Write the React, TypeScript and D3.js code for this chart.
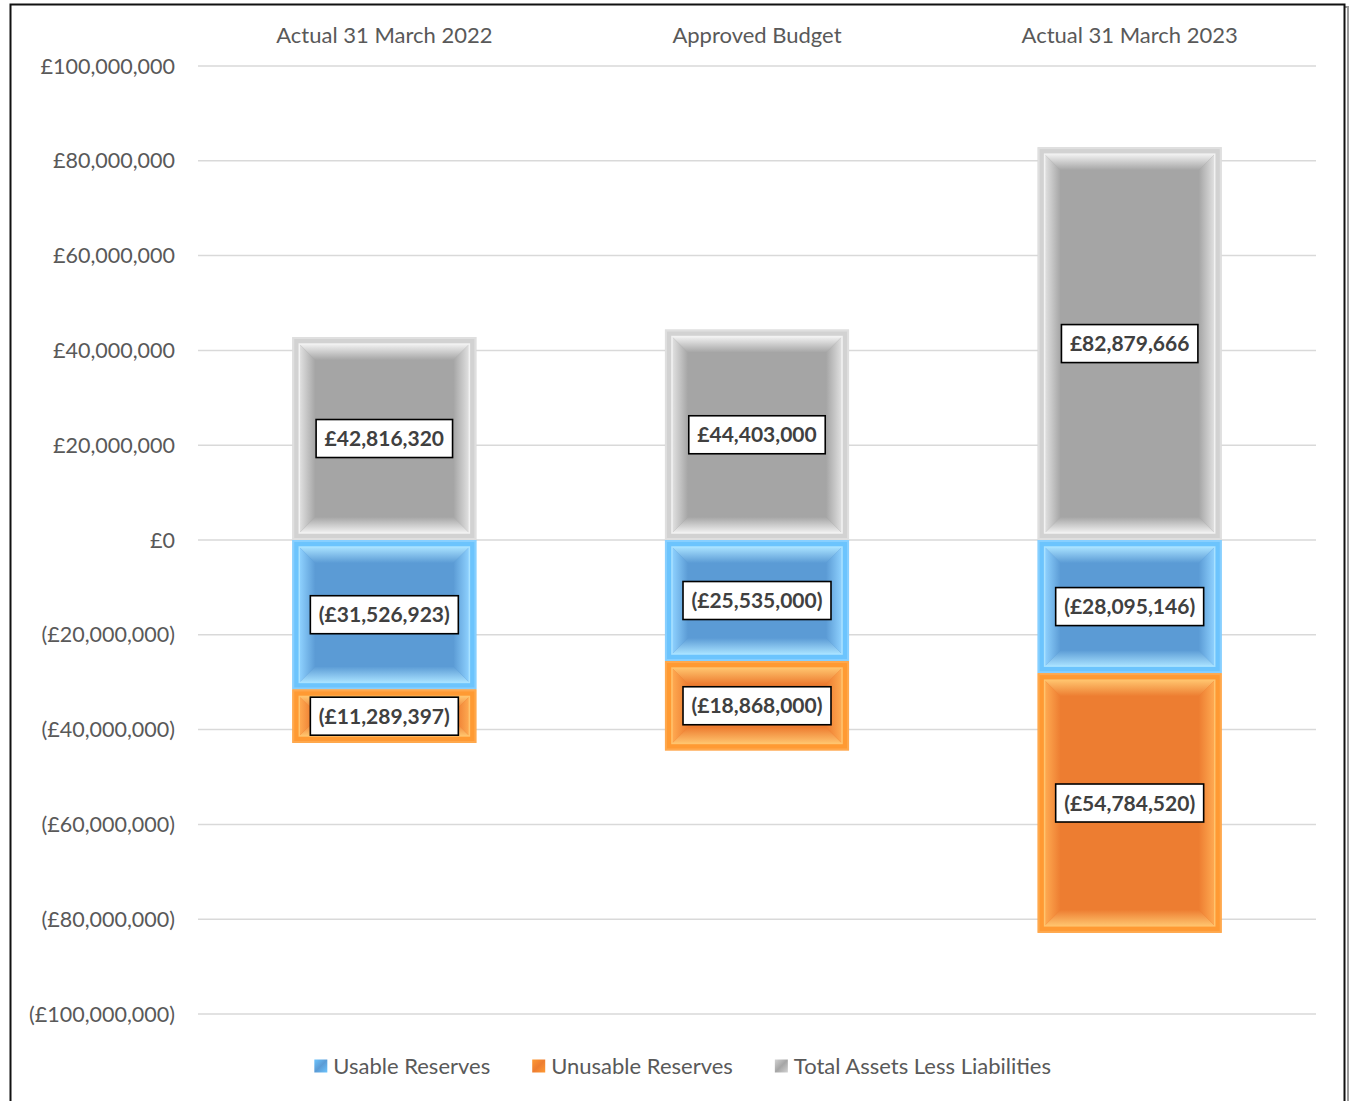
import React from "react";
import * as d3 from "d3";

const categories = ["Actual 31 March 2022", "Approved Budget", "Actual 31 March 2023"];
const usableReserves = [-31526923, -25535000, -28095146];
const unusableReserves = [-11289397, -18868000, -54784520];
const totalAssetsLessLiabilities = [42816320, 44403000, 82879666];
const seriesNames = ["Usable Reserves", "Unusable Reserves", "Total Assets Less Liabilities"];
const yTickValues = [-100e6, -80e6, -60e6, -40e6, -20e6, 0, 20e6, 40e6, 60e6, 80e6, 100e6];

const FONT = "Lato, 'Open Sans', sans-serif";
const W = 1351;
const H = 1101;

const palettes = [
  { key: "usable", base: "#5b9bd5", edge: "#6cc4fd", hi: "#a9e2ff", bevelLight: "#8fd2ff", bevelDark: "#4f8fcb" },
  { key: "unusable", base: "#ed7d31", edge: "#ff9a33", hi: "#ffc46e", bevelLight: "#ffab52", bevelDark: "#e37025" },
  { key: "total", base: "#a5a5a5", edge: "#d2d2d2", hi: "#f2f2f2", bevelLight: "#e2e2e2", bevelDark: "#9a9a9a" },
];

const fmt = d3.format(",");
function money(v: number): string {
  if (v === 0) return "£0";
  return v < 0 ? `(£${fmt(-v)})` : `£${fmt(v)}`;
}

let _ctx: CanvasRenderingContext2D | null = null;
function textWidth(t: string, font: string): number {
  if (!_ctx) _ctx = document.createElement("canvas").getContext("2d");
  if (!_ctx) return t.length * 10;
  _ctx.font = font;
  return _ctx.measureText(t).width;
}

export default function App() {
  const rows = categories.map((c, i) => ({
    cat: c,
    usable: usableReserves[i],
    unusable: unusableReserves[i],
    total: totalAssetsLessLiabilities[i],
  }));
  const stack = d3.stack<any>().keys(["usable", "unusable", "total"]).offset(d3.stackOffsetDiverging);
  const series = stack(rows);

  const x = d3.scaleBand<string>().domain(categories).range([198, 1316]).paddingInner(0.506).paddingOuter(0.253);
  const y = d3.scaleLinear().domain([-100e6, 100e6]).range([1014, 66]);

  const segs: any[] = [];
  series.forEach((s, si) => {
    s.forEach((d: any, ci: number) => {
      const v = (rows[ci] as any)[s.key];
      const x0 = x(categories[ci])!;
      const x1 = x0 + x.bandwidth();
      const yTop = y(Math.max(d[0], d[1]));
      const yBot = y(Math.min(d[0], d[1]));
      segs.push({ si, ci, v, x0, x1, y0: yTop, y1: yBot });
    });
  });

  const labelFont = `bold 21px ${FONT}`;
  const legendFont = `22px ${FONT}`;

  // legend layout
  const sq = 13;
  const gapSqText = 6;
  const gapItems = 42;
  const widths = seriesNames.map((n) => sq + gapSqText + textWidth(n, legendFont));
  const totalW = d3.sum(widths) + gapItems * (seriesNames.length - 1);
  let lx = 683 - totalW / 2;
  const legendItems = seriesNames.map((n, i) => {
    const item = { name: n, x: lx, pal: palettes[i] };
    lx += widths[i] + gapItems;
    return item;
  });

  return (
    <svg width={W} height={H} style={{ position: "fixed", left: 0, top: 0, background: "#fff" }} fontFamily={FONT}>
      <defs>
        {palettes.map((p) => (
          <React.Fragment key={p.key}>
            <linearGradient id={`${p.key}-top`} x1="0" y1="0" x2="0" y2="1">
              <stop offset="0" stopColor={p.hi} />
              <stop offset="1" stopColor={p.base} />
            </linearGradient>
            <linearGradient id={`${p.key}-bottom`} x1="0" y1="1" x2="0" y2="0">
              <stop offset="0" stopColor={p.hi} />
              <stop offset="1" stopColor={p.base} />
            </linearGradient>
            <linearGradient id={`${p.key}-left`} x1="0" y1="0" x2="1" y2="0">
              <stop offset="0" stopColor={p.bevelLight} />
              <stop offset="1" stopColor={p.base} />
            </linearGradient>
            <linearGradient id={`${p.key}-right`} x1="1" y1="0" x2="0" y2="0">
              <stop offset="0" stopColor={p.bevelLight} />
              <stop offset="1" stopColor={p.base} />
            </linearGradient>
            <linearGradient id={`${p.key}-legend`} x1="0" y1="0" x2="1" y2="1">
              <stop offset="0" stopColor={p.edge} />
              <stop offset="0.5" stopColor={p.base} />
              <stop offset="1" stopColor={p.edge} />
            </linearGradient>
          </React.Fragment>
        ))}
      </defs>

      {/* chart border with shadow */}
      <rect x={13} y={7} width={1335} height={1200} fill="none" stroke="#9a9a9a" strokeWidth={2} />
      <rect x={10.5} y={4.5} width={1334} height={1200} fill="#fff" stroke="#111" strokeWidth={2} />

      {/* gridlines */}
      {yTickValues.map((t) => (
        <line key={t} x1={198} x2={1316} y1={y(t)} y2={y(t)} stroke="#d9d9d9" strokeWidth={1.5} />
      ))}

      {/* y tick labels */}
      {yTickValues.map((t) => (
        <text key={t} x={175} y={y(t)} dy="0.35em" textAnchor="end" fontSize={21.5} fill="#595959">
          {money(t)}
        </text>
      ))}

      {/* category labels */}
      {categories.map((c) => (
        <text key={c} x={x(c)! + x.bandwidth() / 2} y={35} dy="0.35em" textAnchor="middle" fontSize={22} fill="#595959">
          {c}
        </text>
      ))}

      {/* bars */}
      {segs.map((s, i) => {
        const p = palettes[s.si];
        const { x0, x1, y0, y1 } = s;
        const f = 7;
        const ix0 = x0 + f, ix1 = x1 - f, iy0 = y0 + f, iy1 = y1 - f;
        const h = iy1 - iy0;
        const w = ix1 - ix0;
        const b = Math.max(0, Math.min(16, h / 3, w / 3));
        const poly = (pts: number[][]) => pts.map((q) => q.join(",")).join(" ");
        return (
          <g key={i}>
            <rect x={x0} y={y0} width={x1 - x0} height={y1 - y0} fill={p.edge} />
            <rect x={x0 + 1} y={y0 + 1} width={x1 - x0 - 2} height={y1 - y0 - 2} fill="none" stroke={p.bevelLight} strokeWidth={2} opacity={0.8} />
            {h > 0 && (
              <>
                <rect x={ix0} y={iy0} width={w} height={h} fill={p.base} />
                <polygon points={poly([[ix0, iy0], [ix1, iy0], [ix1 - b, iy0 + b], [ix0 + b, iy0 + b]])} fill={`url(#${p.key}-top)`} />
                <polygon points={poly([[ix0, iy1], [ix1, iy1], [ix1 - b, iy1 - b], [ix0 + b, iy1 - b]])} fill={`url(#${p.key}-bottom)`} />
                <polygon points={poly([[ix0, iy0], [ix0 + b, iy0 + b], [ix0 + b, iy1 - b], [ix0, iy1]])} fill={`url(#${p.key}-left)`} />
                <polygon points={poly([[ix1, iy0], [ix1 - b, iy0 + b], [ix1 - b, iy1 - b], [ix1, iy1]])} fill={`url(#${p.key}-right)`} />
                <rect x={ix0} y={iy0} width={w} height={h} fill="none" stroke={p.hi} strokeWidth={1.5} />
              </>
            )}
          </g>
        );
      })}

      {/* data labels */}
      {segs.map((s, i) => {
        const t = money(s.v);
        const tw = textWidth(t, labelFont);
        const bw = tw + 17;
        const bh = 38;
        const cx = (s.x0 + s.x1) / 2;
        const cy = (s.y0 + s.y1) / 2;
        return (
          <g key={`l${i}`}>
            <rect x={cx - bw / 2} y={cy - bh / 2} width={bw} height={bh} fill="#fff" stroke="#000" strokeWidth={1.6} />
            <text x={cx} y={cy} dy="0.36em" textAnchor="middle" fontSize={21} fontWeight="bold" fill="#404040">
              {t}
            </text>
          </g>
        );
      })}

      {/* legend */}
      {legendItems.map((it) => (
        <g key={it.name}>
          <rect x={it.x} y={1066 - sq / 2} width={sq} height={sq} fill={`url(#${it.pal.key}-legend)`} />
          <text x={it.x + sq + gapSqText} y={1066} dy="0.35em" fontSize={22} fill="#595959">
            {it.name}
          </text>
        </g>
      ))}
    </svg>
  );
}
